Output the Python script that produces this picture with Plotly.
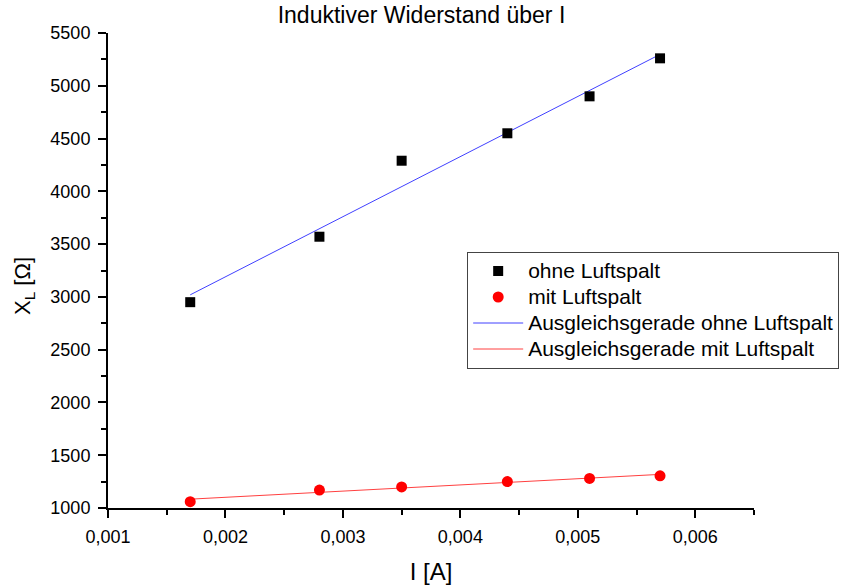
import numpy as np
import plotly.graph_objects as go

current = [0.0017, 0.0028, 0.0035, 0.0044, 0.0051, 0.0057]
xl_ohne = [2950, 3570, 4290, 4550, 4900, 5260]
xl_mit = [1060, 1170, 1200, 1250, 1280, 1305]

x_arr = np.array(current)
p_ohne = np.polyfit(x_arr, xl_ohne, 1)
p_mit = np.polyfit(x_arr, xl_mit, 1)
fit_x = [current[0], current[-1]]

font = "Liberation Sans, Arial, sans-serif"

def big(s):
    return f'<span style="font-size:21px">{s}</span>'

fig = go.Figure()
fig.add_trace(go.Scatter(x=fit_x, y=list(np.polyval(p_ohne, fit_x)), mode="lines",
                         name=big("Ausgleichsgerade ohne Luftspalt"), legendrank=3,
                         line=dict(color="#4040ff", width=1)))
fig.add_trace(go.Scatter(x=fit_x, y=list(np.polyval(p_mit, fit_x)), mode="lines",
                         name=big("Ausgleichsgerade mit Luftspalt"), legendrank=4,
                         line=dict(color="#ff4040", width=1)))
fig.add_trace(go.Scatter(x=current, y=xl_ohne, mode="markers", name=big("ohne Luftspalt"),
                         legendrank=1,
                         marker=dict(symbol="square", size=10, color="black")))
fig.add_trace(go.Scatter(x=current, y=xl_mit, mode="markers", name=big("mit Luftspalt"),
                         legendrank=2,
                         marker=dict(symbol="circle", size=11, color="#ff0000")))

fig.update_layout(
    width=843, height=585,
    margin=dict(l=108, r=89, t=33, b=77, autoexpand=False),
    paper_bgcolor="white", plot_bgcolor="white",
    separators=",.",
    font=dict(family=font, color="black", size=18),
    title=dict(text="Induktiver Widerstand über I", x=0.5, xanchor="center",
               y=0.974, yanchor="middle", font=dict(size=23, family=font)),
    showlegend=True,
    legend=dict(x=0.556, y=0.539, xanchor="left", yanchor="top",
                bgcolor="white", bordercolor="#444", borderwidth=1,
                font=dict(size=17.7, family=font), tracegroupgap=0,
                itemwidth=50),
    xaxis=dict(range=[0.001, 0.0065], dtick=0.001, tick0=0.001, tickformat=".3f",
               automargin=False,
               showgrid=False, zeroline=False, showline=True, linecolor="black",
               linewidth=2, ticks="outside", ticklen=8, tickwidth=2, tickcolor="black",
               ticklabelstandoff=3,
               minor=dict(dtick=0.0005, ticks="outside", ticklen=5, tickwidth=2,
                          tickcolor="black", showgrid=False),
               title=dict(text="I [A]", font=dict(size=24), standoff=22),
               tickfont=dict(size=18)),
    yaxis=dict(range=[1000, 5500], dtick=500, tick0=1000,
               automargin=False,
               showgrid=False, zeroline=False, showline=True, linecolor="black",
               linewidth=2, ticks="outside", ticklen=8, tickwidth=2, tickcolor="black",
               ticklabelstandoff=4,
               minor=dict(dtick=250, ticks="outside", ticklen=5, tickwidth=2,
                          tickcolor="black", showgrid=False),
               tickfont=dict(size=18)),
    annotations=[dict(text="X<sub>L</sub> [Ω]", textangle=-90, xref="paper", yref="paper",
                      x=-0.13, y=(508 - 286) / 475, xanchor="center", yanchor="middle",
                      showarrow=False, font=dict(size=22, family=font))],
)

fig.write_html("out.html")
